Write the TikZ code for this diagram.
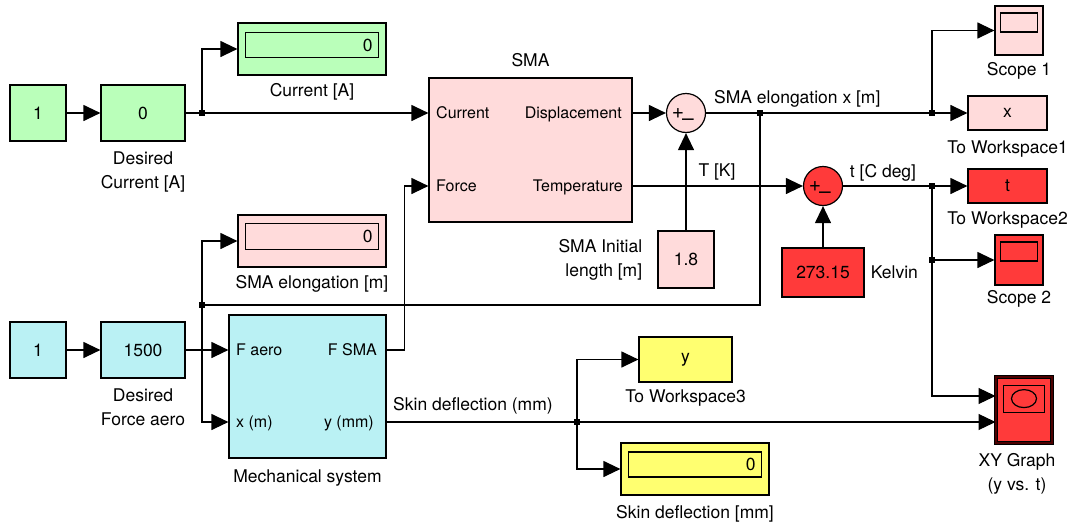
\documentclass[tikz,border=0pt]{standalone}
\usepackage{fontspec}
\setmainfont{TeX Gyre Heros}
\usetikzlibrary{arrows.meta,positioning}

\definecolor{smgreen}{RGB}{186,255,186}
\definecolor{smcyan}{RGB}{186,241,244}
\definecolor{smpink}{RGB}{255,219,219}
\definecolor{smred}{RGB}{255,58,58}
\definecolor{smyellow}{RGB}{255,255,112}

\tikzset{
  blk/.style={draw, line width=1.2pt, inner sep=0pt, font=\fontsize{17.5}{21}\selectfont},
  scr/.style={draw, line width=1.2pt, inner sep=0pt},
  lbl/.style={inner sep=0pt, align=center, font=\fontsize{17.5}{24}\selectfont},
  port/.style={inner sep=0pt, text height=11.5pt, text depth=0pt, font=\fontsize{16}{19}\selectfont},
  sgn/.style={inner sep=0pt, font=\fontsize{21}{21}\selectfont},
  sumblk/.style={draw, circle, line width=1.2pt, minimum size=39pt, inner sep=0pt},
  sig/.style={line width=1.2pt, -{Triangle[length=17pt,width=16pt]}},
  wire/.style={line width=1.2pt},
}

\begin{document}
\begin{tikzpicture}[x=1pt, y=-1pt]
  \path[use as bounding box, fill=white] (0,0) rectangle (1068,525);

  % Current source chain (green).
  \node[blk, fill=smgreen, minimum width=56pt, minimum height=56pt] (c1) at (38,113) {1};
  \node[blk, fill=smgreen, minimum width=84pt, minimum height=56pt] (gA) at (143,113) {0};
  \node[lbl, below=9.5pt of gA] {Desired\\Current [A]};
  \node[blk, fill=smgreen, minimum width=148pt, minimum height=52pt] (dispA) at (312,49) {};
  \node[scr, minimum width=133pt, minimum height=25pt, text width=121pt, align=right,
        inner xsep=6pt, font=\fontsize{17.5}{21}\selectfont] at ([yshift=4pt]dispA.center) {0};
  \node[lbl, below=8pt of dispA] {Current [A]};

  % SMA block and ports.
  \node[blk, fill=smpink, minimum width=203pt, minimum height=144pt] (sma) at (530.5,150) {};
  \node[lbl, above=10pt of sma] {SMA};
  \node[port, anchor=west] (sCur) at (436,113) {Current};
  \node[port, anchor=west] (sFo) at (436,186) {Force};
  \node[port, anchor=east] (sDis) at (622,113) {Displacement};
  \node[port, anchor=east] (sTem) at (623,186) {Temperature};

  % Elongation sum.
  \node[sumblk, fill=smpink] (sum1) at (686,113) {};
  \node[sgn] at ([xshift=-8pt,yshift=-1pt]sum1.center) {+};
  \node[sgn] at ([xshift=2pt,yshift=-9pt]sum1.center) {--};
  \node[blk, fill=smpink, minimum width=56pt, minimum height=57pt] (cInit) at (686,259.5) {1.8};
  \node[lbl, left=15pt of cInit, align=right] {SMA Initial\\length [m]};

  % Temperature sum.
  \node[sumblk, fill=smred] (sum2) at (823,186) {};
  \node[sgn] at ([xshift=-8pt,yshift=-1pt]sum2.center) {+};
  \node[sgn] at ([xshift=2pt,yshift=-9pt]sum2.center) {--};
  \node[blk, fill=smred, minimum width=82pt, minimum height=49pt] (kelvin) at (823,272.5) {273.15};
  \node[lbl, right=6pt of kelvin] {Kelvin};

  % Sinks on the right.
  \node[blk, fill=smpink, minimum width=48pt, minimum height=49pt] (scope1) at (1019,30.5) {};
  \node[scr, minimum width=37pt, minimum height=19pt, below=7pt of scope1.north] {};
  \node[lbl, below=7pt of scope1] {Scope 1};
  \node[blk, fill=smpink, minimum width=79pt, minimum height=34pt] (ws1) at (1007.5,113) {x};
  \node[lbl, below=10pt of ws1] {To Workspace1};
  \node[blk, fill=smred, minimum width=79pt, minimum height=34pt] (ws2) at (1007.5,186) {t};
  \node[lbl, below=8pt of ws2] {To Workspace2};
  \node[blk, fill=smred, minimum width=48pt, minimum height=50pt] (scope2) at (1019,260) {};
  \node[scr, minimum width=37pt, minimum height=19pt, below=7pt of scope2.north] {};
  \node[lbl, below=5pt of scope2] {Scope 2};
  \node[blk, fill=smred, draw=black, line width=1pt, double=red!30!black, double distance=2pt,
        minimum width=56pt, minimum height=66pt] (xy) at (1024,410) {};
  \node[scr, minimum width=41pt, minimum height=27pt, below=8pt of xy.north] (xyScr) {};
  \draw[line width=1.2pt] (xyScr.center) ellipse (12.5pt and 9pt);
  \node[lbl, below=10pt of xy, xshift=-7pt] {XY Graph\\(y vs. t)};
  \coordinate (xyA) at ([yshift=14pt]xy.west);
  \coordinate (xyB) at ([yshift=-12pt]xy.west);

  % Force chain (cyan) and mechanical system.
  \node[blk, fill=smcyan, minimum width=56pt, minimum height=56pt] (c2) at (38,350) {1};
  \node[blk, fill=smcyan, minimum width=84pt, minimum height=56pt] (gB) at (143,350) {1500};
  \node[lbl, below=10pt of gB] {Desired\\Force aero};
  \node[blk, fill=smcyan, minimum width=157pt, minimum height=143pt] (mech) at (307.5,386.5) {};
  \node[lbl, below=11pt of mech] {Mechanical system};
  \node[port, anchor=west] (mFa) at (236,350) {F aero};
  \node[port, anchor=west] (mX) at (236,422) {x (m)};
  \node[port, anchor=east] (mFs) at (377,350) {F SMA};
  \node[port, anchor=east] (mY) at (374,422) {y (mm)};
  \node[blk, fill=smpink, minimum width=148pt, minimum height=52pt] (dispB) at (312,241) {};
  \node[scr, minimum width=133pt, minimum height=26pt, text width=121pt, align=right,
        inner xsep=6pt, font=\fontsize{17.5}{21}\selectfont] at ([yshift=4.5pt]dispB.center) {0};
  \node[lbl, below=8pt of dispB] {SMA elongation [m]};

  % Skin deflection sinks (yellow).
  \node[blk, fill=smyellow, minimum width=93pt, minimum height=45pt] (ws3) at (685.5,359.5) {y};
  \node[lbl, below=7pt of ws3] {To Workspace3};
  \node[blk, fill=smyellow, minimum width=148pt, minimum height=52pt] (dispC) at (695,469) {};
  \node[scr, minimum width=133pt, minimum height=25pt, text width=121pt, align=right,
        inner xsep=6pt, font=\fontsize{17.5}{21}\selectfont] at ([yshift=4.5pt]dispC.center) {0};
  \node[lbl, below=10pt of dispC] {Skin deflection [mm]};

  % Branch points.
  \coordinate (jA) at (202,113);
  \coordinate (jB) at (760,113);
  \coordinate (jC) at (932,113);
  \coordinate (jD) at (932,186);
  \coordinate (jE) at (932,260);
  \coordinate (jF) at (202,305);
  \coordinate (jG) at (577,422);

  % Signal lines.
  \draw[sig] (c1) -- (gA);
  \draw[wire] (gA) -- (jA);
  \draw[sig] (jA) -- (sma.west |- sCur);
  \draw[sig] (jA) |- (dispA);
  \draw[sig] (mech.east |- mFs) -- ++(18,0) |- (sma.west |- sFo);
  \draw[sig] (sma.east |- sDis) -- (sum1);
  \draw[sig] (cInit) -- (sum1);
  \draw[wire] (sum1) -- (jB) -- (jC);
  \draw[sig] (jC) -- (ws1);
  \draw[sig] (jC) |- (scope1);
  \draw[wire] (jB) -- (jB |- jF) -- (jF);
  \draw[sig] (jF) |- (dispB);
  \draw[sig] (jF) |- (mech.west |- mX);
  \draw[sig] (sma.east |- sTem) -- (sum2);
  \draw[sig] (kelvin) -- (sum2);
  \draw[wire] (sum2) -- (jD) -- (jE);
  \draw[sig] (jD) -- (ws2);
  \draw[sig] (jE) -- (scope2);
  \draw[sig] (jE) |- (xyA);
  \draw[sig] (c2) -- (gB);
  \draw[sig] (gB) -- (mech.west |- mFa);
  \draw[wire] (mech.east |- mY) -- (jG);
  \draw[sig] (jG) -- (xyB);
  \draw[sig] (jG) |- (ws3);
  \draw[sig] (jG) |- (dispC);
  \foreach \j in {jA,jB,jC,jD,jE,jF,jG}{
    \fill (\j) +(-3,-3) rectangle +(3,3);
  }

  % Line labels.
  \node[lbl, anchor=base west] at (714,103) {SMA elongation x [m]};
  \node[lbl, anchor=base] at (717,176) {T [K]};
  \node[lbl, anchor=base] at (883,177) {t [C deg]};
  \node[lbl, anchor=base west] at (393,410) {Skin deflection (mm)};
\end{tikzpicture}
\end{document}
